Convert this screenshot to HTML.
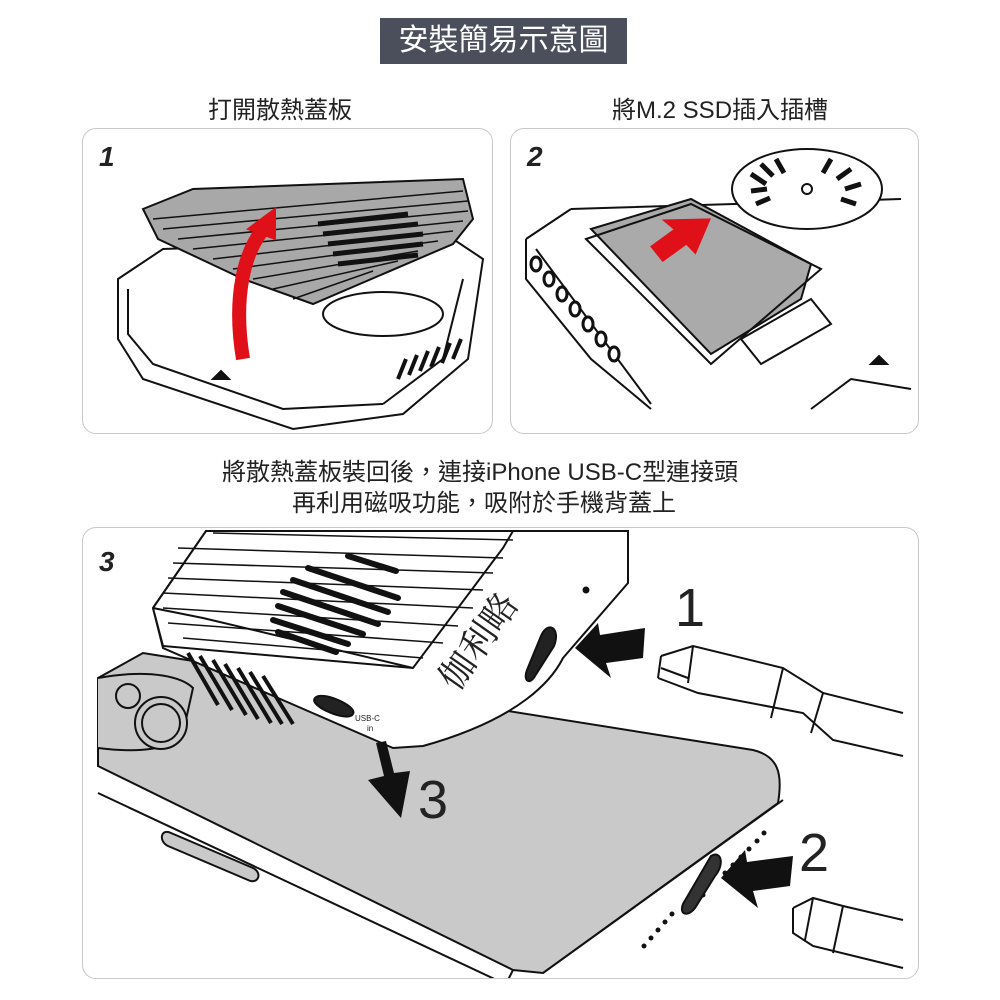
<!DOCTYPE html>
<html><head><meta charset="utf-8"><style>
body{margin:0;background:#fff;width:1000px;height:1000px;overflow:hidden;font-family:"Liberation Sans","Noto Sans CJK TC",sans-serif}
.t{position:absolute;white-space:nowrap;color:#222}
.p{position:absolute;border:1.5px solid #c8c8c8;border-radius:14px;box-sizing:border-box;overflow:hidden;background:#fff}
.n{position:absolute;font:italic bold 28px "Liberation Sans",sans-serif;color:#222}
</style></head><body>
<div style="position:absolute;left:380px;top:18px;width:247px;height:46px;background:#4b4f5c;color:#fff;font-size:30px;line-height:46px;text-align:center;font-family:'Liberation Sans','Noto Sans CJK TC',sans-serif">安裝簡易示意圖</div>
<div class="t" style="left:208px;top:90px;font-size:24px">打開散熱蓋板</div>
<div class="t" style="left:612px;top:90px;font-size:24px">將M.2 SSD插入插槽</div>
<div class="t" style="left:222px;top:452px;font-size:24px">將散熱蓋板裝回後，連接iPhone USB-C型連接頭</div>
<div class="t" style="left:292px;top:483px;font-size:24px">再利用磁吸功能，吸附於手機背蓋上</div>

<div class="p" style="left:82px;top:128px;width:411px;height:306px">
<svg width="411" height="306" style="position:absolute;left:0;top:0" fill="none" stroke="#111" stroke-width="2">
<path d="M35 150 L80 120 L370 110 L400 130 L385 230 L320 285 L210 300 L60 250 L35 210 Z" fill="#fff"/>
<path d="M45 160 L45 205 L70 235 L200 280 L300 275" />
<path d="M300 275 L360 230 L380 150"/>
<g stroke-width="4"><path d="M315 250 l8 -20 M326 246 l8 -20 M337 242 l8 -20 M348 238 l8 -20 M359 234 l8 -20 M370 230 l8 -20"/></g>
<ellipse cx="300" cy="185" rx="60" ry="22" fill="#fff"/>
<path d="M60 80 L110 60 L380 50 L390 90 L370 115 L230 175 L160 150 L75 110 Z" fill="#a8a8a8"/>
<g stroke-width="1.5"><path d="M70 90 L380 62 M80 100 L385 72 M95 110 L385 82 M110 120 L380 92 M130 130 L370 102 M150 140 L355 112 M170 150 L335 122 M190 160 L315 132 M210 170 L290 142"/></g>
<g stroke-width="5"><path d="M235 95 l90 -10 M240 105 l95 -10 M245 115 l95 -10 M250 125 l90 -10 M255 135 l80 -9"/></g>
<path d="M160 230 C150 170 160 120 185 95" stroke="#e01018" stroke-width="14" stroke-linecap="butt"/>
<path d="M165 100 L192 80 L192 110 Z" fill="#e01018" stroke="#e01018"/>
<path d="M130 250 l8 -8 l8 8 z" fill="#111"/>
</svg><div class="n" style="left:16px;top:12px">1</div></div>

<div class="p" style="left:510px;top:128px;width:409px;height:306px">
<svg width="409" height="306" style="position:absolute;left:0;top:0" fill="none" stroke="#111" stroke-width="2">
<path d="M60 80 L390 70 M15 110 L60 80 M15 110 L15 150 L80 230 L140 280" />
<path d="M25 120 L140 275 M300 280 L340 250 L400 260"/>
<g fill="#fff" stroke-width="3"><ellipse cx="25" cy="135" rx="5" ry="7"/><ellipse cx="38" cy="150" rx="5" ry="7"/><ellipse cx="51" cy="165" rx="5" ry="7"/><ellipse cx="64" cy="180" rx="5" ry="7"/><ellipse cx="77" cy="195" rx="5" ry="7"/><ellipse cx="90" cy="210" rx="5" ry="7"/><ellipse cx="103" cy="225" rx="5" ry="7"/></g>
<ellipse cx="296" cy="60" rx="75" ry="40" fill="#fff"/>
<g stroke-width="5"><path d="M240 45 l15 10 M250 35 l12 12 M265 30 l8 14 M320 30 l-8 14 M340 40 l-14 10 M350 55 l-16 5 M345 75 l-15 -5 M245 75 l14 -6 M240 62 l16 -2"/></g>
<circle cx="296" cy="60" r="5" fill="#fff"/>
<path d="M80 100 L180 70 L300 135 L290 170 L200 225 Z" fill="#aaa"/>
<path d="M75 110 L180 75 L310 140 L200 235 Z"/>
<path d="M230 210 L300 170 L320 195 L250 235 Z" fill="#fff"/>
<path d="M200 93 L183 125 L175 115 L150 130 L140 115 L165 100 L155 90 Z" fill="#e01018" stroke="#e01018" transform="rotate(-5 170 110)"/>
<path d="M360 235 l8 -8 l8 8 z" fill="#111"/>
</svg><div class="n" style="left:16px;top:12px">2</div></div>

<div class="p" style="left:82px;top:527px;width:837px;height:452px">
<svg width="837" height="452" style="position:absolute;left:0;top:0" fill="none" stroke="#111" stroke-width="2">
<!-- phone -->
<path d="M15 150 L60 125 L670 222 C695 228 700 245 695 275 L460 445 L430 442 L15 238 Z" fill="#c9c9c9"/>
<path d="M15 265 L420 455 M460 445 L700 272 M430 442 L425 452"/>
<path d="M15 150 C70 140 100 150 110 160 L100 205 C90 222 55 225 15 220" fill="#c9c9c9"/>
<circle cx="78" cy="195" r="26" fill="#c9c9c9"/><circle cx="78" cy="195" r="19" fill="#c9c9c9"/>
<circle cx="45" cy="168" r="12" fill="#c9c9c9"/>
<path d="M88 305 L170 340 C180 345 175 357 165 352 L85 318 C75 313 78 300 88 305Z" fill="#c9c9c9"/>
<g fill="#111" stroke="none"><circle cx="642" cy="345" r="2.5"/><circle cx="650" cy="337" r="2.5"/><circle cx="658" cy="329" r="2.5"/><circle cx="666" cy="321" r="2.5"/><circle cx="674" cy="313" r="2.5"/><circle cx="681" cy="305" r="2.5"/><circle cx="620" cy="367" r="2.5"/><circle cx="561" cy="418" r="2.5"/><circle cx="568" cy="410" r="2.5"/><circle cx="575" cy="402" r="2.5"/><circle cx="582" cy="394" r="2.5"/><circle cx="589" cy="386" r="2.5"/></g>
<path d="M628 328 C638 322 642 336 632 348 L612 380 C604 390 596 386 600 376 Z" fill="#333"/>
<!-- device -->
<path d="M70 80 L123 3 L545 3 L545 55 L480 130 C470 150 440 190 340 218 L310 220 L80 120 Z" fill="#fff"/>
<path d="M70 80 L123 3 L430 3 L420 20 L330 140 L80 118 Z" fill="#fff"/>
<path d="M70 80 L120 90 L330 140"/>
<g stroke-width="1.5"><path d="M95 20 L420 30 M90 35 L410 45 M85 50 L400 62 M80 65 L390 80 M80 80 L375 98 M85 95 L360 115 M100 110 L340 130 M130 5 L430 12"/></g>
<g stroke-width="6" stroke-linecap="round"><path d="M265 28 l48 15 M225 40 l90 30 M210 52 l95 32 M200 64 l95 32 M195 78 l85 28 M190 92 l75 24 M195 104 l58 20"/></g>
<g stroke-width="4"><path d="M105 125 l30 52 M117 128 l32 54 M130 132 l33 55 M142 136 l33 55 M155 140 l33 55 M167 144 l32 52 M180 148 l30 48"/></g>
<path d="M232 170 C225 178 265 195 270 186 C275 178 238 162 232 170Z" fill="#222"/>
<path d="M458 108 C465 92 478 100 471 118 L452 148 C446 158 440 152 444 142 Z" fill="#222"/>
<circle cx="503" cy="62" r="2.5" fill="#111"/>
<!-- arrows -->
<path d="M293 215 L301 248 L285 252 L318 290 L327 243 L311 245 L303 213 Z" fill="#111" stroke="none"/>
<path d="M492 120 L515 95 L517 107 L562 100 L560 130 L523 135 L528 150 Z" fill="#111" stroke="none"/>
<path d="M638 350 L662 322 L664 334 L710 328 L707 358 L670 363 L675 380 Z" fill="#111" stroke="none"/>
<!-- cable 1 -->
<path d="M578 128 L610 118 L700 140 L740 165 L820 185 M575 150 L615 165 L720 185 L750 212 L820 228 M575 150 L578 128 M610 118 L605 155 M700 140 L688 190 M740 165 L728 205 M578 140 L605 150"/>
<!-- cable 2 -->
<path d="M710 380 L730 370 L760 378 L820 392 M710 380 L710 405 L730 418 L820 440 M730 370 L722 412 M760 378 L750 425"/>
<text x="320" y="120" transform="rotate(-55 390 90)" font-family="Liberation Serif,Noto Serif CJK SC,serif" font-size="36" fill="#222" stroke="none">伽利略</text>
<text x="272" y="193" font-size="8" fill="#222" stroke="none">USB-C</text><text x="284" y="203" font-size="8" fill="#222" stroke="none">in</text>
<text x="592" y="98" font-family="Liberation Sans,sans-serif" font-size="54" fill="#222" stroke="none">1</text>
<text x="335" y="290" font-family="Liberation Sans,sans-serif" font-size="54" fill="#222" stroke="none">3</text>
<text x="716" y="343" font-family="Liberation Sans,sans-serif" font-size="54" fill="#222" stroke="none">2</text>
</svg><div class="n" style="left:16px;top:18px">3</div></div>
</body></html>
